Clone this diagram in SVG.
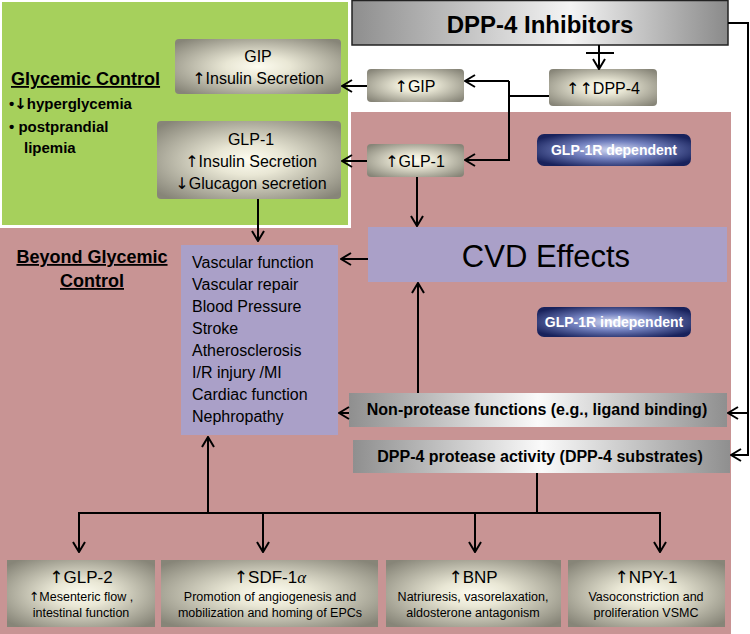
<svg xmlns="http://www.w3.org/2000/svg" width="750" height="634" viewBox="0 0 750 634">
<defs>
<radialGradient id="tan" cx="50%" cy="50%" r="65%">
<stop offset="0" stop-color="#fdfcf0"/>
<stop offset="0.3" stop-color="#e9e7d5"/>
<stop offset="1" stop-color="#878578"/>
</radialGradient>
<linearGradient id="grayTop" x1="0" y1="0" x2="1" y2="0">
<stop offset="0" stop-color="#8e8e8e"/>
<stop offset="0.58" stop-color="#f4f4f4"/>
<stop offset="1" stop-color="#8a8a8a"/>
</linearGradient>
<linearGradient id="grayBar" x1="0" y1="0" x2="1" y2="0">
<stop offset="0" stop-color="#8f8f8f"/>
<stop offset="0.5" stop-color="#fafafa"/>
<stop offset="1" stop-color="#8f8f8f"/>
</linearGradient>
<radialGradient id="navy" cx="50%" cy="50%" r="60%">
<stop offset="0" stop-color="#d6dcf4"/>
<stop offset="0.45" stop-color="#7381bf"/>
<stop offset="1" stop-color="#18225c"/>
</radialGradient>
<marker id="arr" viewBox="0 0 12 14" refX="11" refY="7" markerWidth="12" markerHeight="14" markerUnits="userSpaceOnUse" orient="auto">
<path d="M1,1 L11,7 L1,13" fill="none" stroke="#000" stroke-width="2"/>
</marker>
<style>
text{font-family:"Liberation Sans",Arial,"DejaVu Sans",sans-serif;fill:#000}
.a{font-family:"DejaVu Sans",sans-serif}
.box{fill:url(#tan)}
.c{text-anchor:middle}
.b{font-weight:bold}
.u{text-decoration:underline}
.lst{font-size:16px}
.t16{font-size:16px}
.s{font-size:12.5px}
.wht{fill:#fff;font-weight:bold;font-size:14px;text-anchor:middle}
.ln{fill:none;stroke:#000;stroke-width:2}
.ar{fill:none;stroke:#000;stroke-width:2;marker-end:url(#arr)}
</style>
</defs>

<g id="background">
<rect x="0" y="0" width="750" height="634" fill="#fff"/>
<rect x="0" y="112" width="731" height="522" fill="#c89494"/>
<rect x="0" y="0" width="351" height="228" fill="#fff"/>
<rect x="2" y="2" width="346" height="223" fill="#a6d05c"/>
</g>

<g id="glycemic-label">
<text x="11" y="85" class="b u" font-size="18">Glycemic Control</text>
<text x="9" y="109" class="b" font-size="15">•<tspan class="a">↓</tspan>hyperglycemia</text>
<text x="9" y="132" class="b" font-size="15">• postprandial</text>
<text x="24" y="153" class="b" font-size="15">lipemia</text>
</g>

<g id="beyond-label">
<text x="92" y="263" class="b u c" font-size="18">Beyond Glycemic</text>
<text x="92" y="287" class="b u c" font-size="18">Control</text>
</g>

<g id="dpp4-inhibitors">
<rect x="352" y="0.5" width="376" height="44.5" fill="url(#grayTop)" stroke="#222" stroke-width="1.5"/>
<text x="540" y="33" class="b c" font-size="24">DPP-4 Inhibitors</text>
</g>

<g id="dpp4">
<rect x="549" y="69" width="108" height="37" rx="4" class="box"/>
<text x="603" y="94" class="c t16"><tspan class="a">↑↑</tspan>DPP-4</text>
</g>

<g id="up-gip">
<rect x="367" y="69" width="97" height="33" rx="4" class="box"/>
<text x="415" y="92" class="c t16"><tspan class="a">↑</tspan>GIP</text>
</g>

<g id="up-glp1">
<rect x="367" y="144" width="97" height="33" rx="4" class="box"/>
<text x="415" y="167" class="c t16"><tspan class="a">↑</tspan>GLP-1</text>
</g>

<g id="gip-box">
<rect x="175" y="39" width="166" height="55" rx="4" class="box"/>
<text x="258" y="62" class="c t16">GIP</text>
<text x="258" y="84" class="c t16"><tspan class="a">↑</tspan>Insulin Secretion</text>
</g>

<g id="glp1-box">
<rect x="157" y="121" width="184" height="78" rx="4" class="box"/>
<text x="251" y="145" class="c t16">GLP-1</text>
<text x="251" y="167" class="c t16"><tspan class="a">↑</tspan>Insulin Secretion</text>
<text x="251" y="189" class="c t16"><tspan class="a">↓</tspan>Glucagon secretion</text>
</g>

<g id="glp1r-dependent">
<rect x="537" y="134" width="154" height="32" rx="7" fill="url(#navy)"/>
<text x="614" y="155" class="wht">GLP-1R dependent</text>
</g>

<g id="glp1r-independent">
<rect x="537" y="307" width="154" height="30" rx="7" fill="url(#navy)"/>
<text x="614" y="327" class="wht">GLP-1R independent</text>
</g>

<g id="cvd-effects">
<rect x="368" y="227" width="359" height="55" fill="#aaa0c8"/>
<text x="546" y="267" class="c" font-size="31">CVD Effects</text>
</g>

<g id="outcomes">
<rect x="181" y="245" width="157" height="190" fill="#aaa0c8"/>
<text x="192" y="268" class="lst">Vascular function</text>
<text x="192" y="290" class="lst">Vascular repair</text>
<text x="192" y="312" class="lst">Blood Pressure</text>
<text x="192" y="334" class="lst">Stroke</text>
<text x="192" y="356" class="lst">Atherosclerosis</text>
<text x="192" y="378" class="lst">I/R injury /MI</text>
<text x="192" y="400" class="lst">Cardiac function</text>
<text x="192" y="422" class="lst">Nephropathy</text>
</g>

<g id="non-protease">
<rect x="349" y="393" width="378" height="34" fill="url(#grayBar)"/>
<text x="537" y="415" class="b c t16">Non-protease functions (e.g., ligand binding)</text>
</g>

<g id="protease">
<rect x="353" y="440" width="377" height="33" fill="url(#grayBar)"/>
<text x="540" y="462" class="b c t16">DPP-4 protease activity (DPP-4 substrates)</text>
</g>

<g id="glp2">
<rect x="7" y="560" width="148" height="67" class="box"/>
<text x="81" y="583" class="c" font-size="17"><tspan class="a">↑</tspan>GLP-2</text>
<text x="81" y="601" class="c s"><tspan class="a">↑</tspan>Mesenteric flow ,</text>
<text x="81" y="617" class="c s">intestinal  function</text>
</g>

<g id="sdf1a">
<rect x="161" y="560" width="217" height="67" class="box"/>
<text x="270" y="583" class="c" font-size="17"><tspan class="a">↑</tspan>SDF-1<tspan font-family="'Liberation Serif',serif" font-style="italic">α</tspan></text>
<text x="270" y="601" class="c s">Promotion of angiogenesis and</text>
<text x="270" y="617" class="c s">mobilization and homing of  EPCs</text>
</g>

<g id="bnp">
<rect x="386" y="560" width="175" height="67" class="box"/>
<text x="473" y="583" class="c" font-size="17"><tspan class="a">↑</tspan>BNP</text>
<text x="473" y="601" class="c s">Natriuresis, vasorelaxation,</text>
<text x="473" y="617" class="c s">aldosterone antagonism</text>
</g>

<g id="npy1">
<rect x="568" y="560" width="157" height="67" class="box"/>
<text x="646" y="583" class="c" font-size="17"><tspan class="a">↑</tspan>NPY-1</text>
<text x="646" y="601" class="c s">Vasoconstriction and</text>
<text x="646" y="617" class="c s">proliferation VSMC</text>
</g>

<g id="connectors">
<path class="ar" d="M599,45 V69"/>
<path class="ln" d="M586,53 H614"/>
<path class="ln" d="M549,96 H509"/>
<path class="ar" d="M509,81 H465"/>
<path class="ar" d="M509,81 V160 H465"/>
<path class="ar" d="M367,86 H342"/>
<path class="ar" d="M367,161 H342"/>
<path class="ar" d="M258,199 V241"/>
<path class="ar" d="M417,177 V226"/>
<path class="ar" d="M368,259 H341"/>
<path class="ar" d="M418,393 V283"/>
<path class="ar" d="M349,413 H339"/>
<path class="ar" d="M728,23 H748 V455 H731"/>
<path class="ar" d="M748,413 H728"/>
<path class="ln" d="M537,473 V513"/>
<path class="ln" d="M79,513 H660"/>
<path class="ar" d="M79,512 V552"/>
<path class="ar" d="M263,512 V552"/>
<path class="ar" d="M475,512 V552"/>
<path class="ar" d="M660,512 V552"/>
<path class="ar" d="M208,513 V437"/>
</g>
</svg>
